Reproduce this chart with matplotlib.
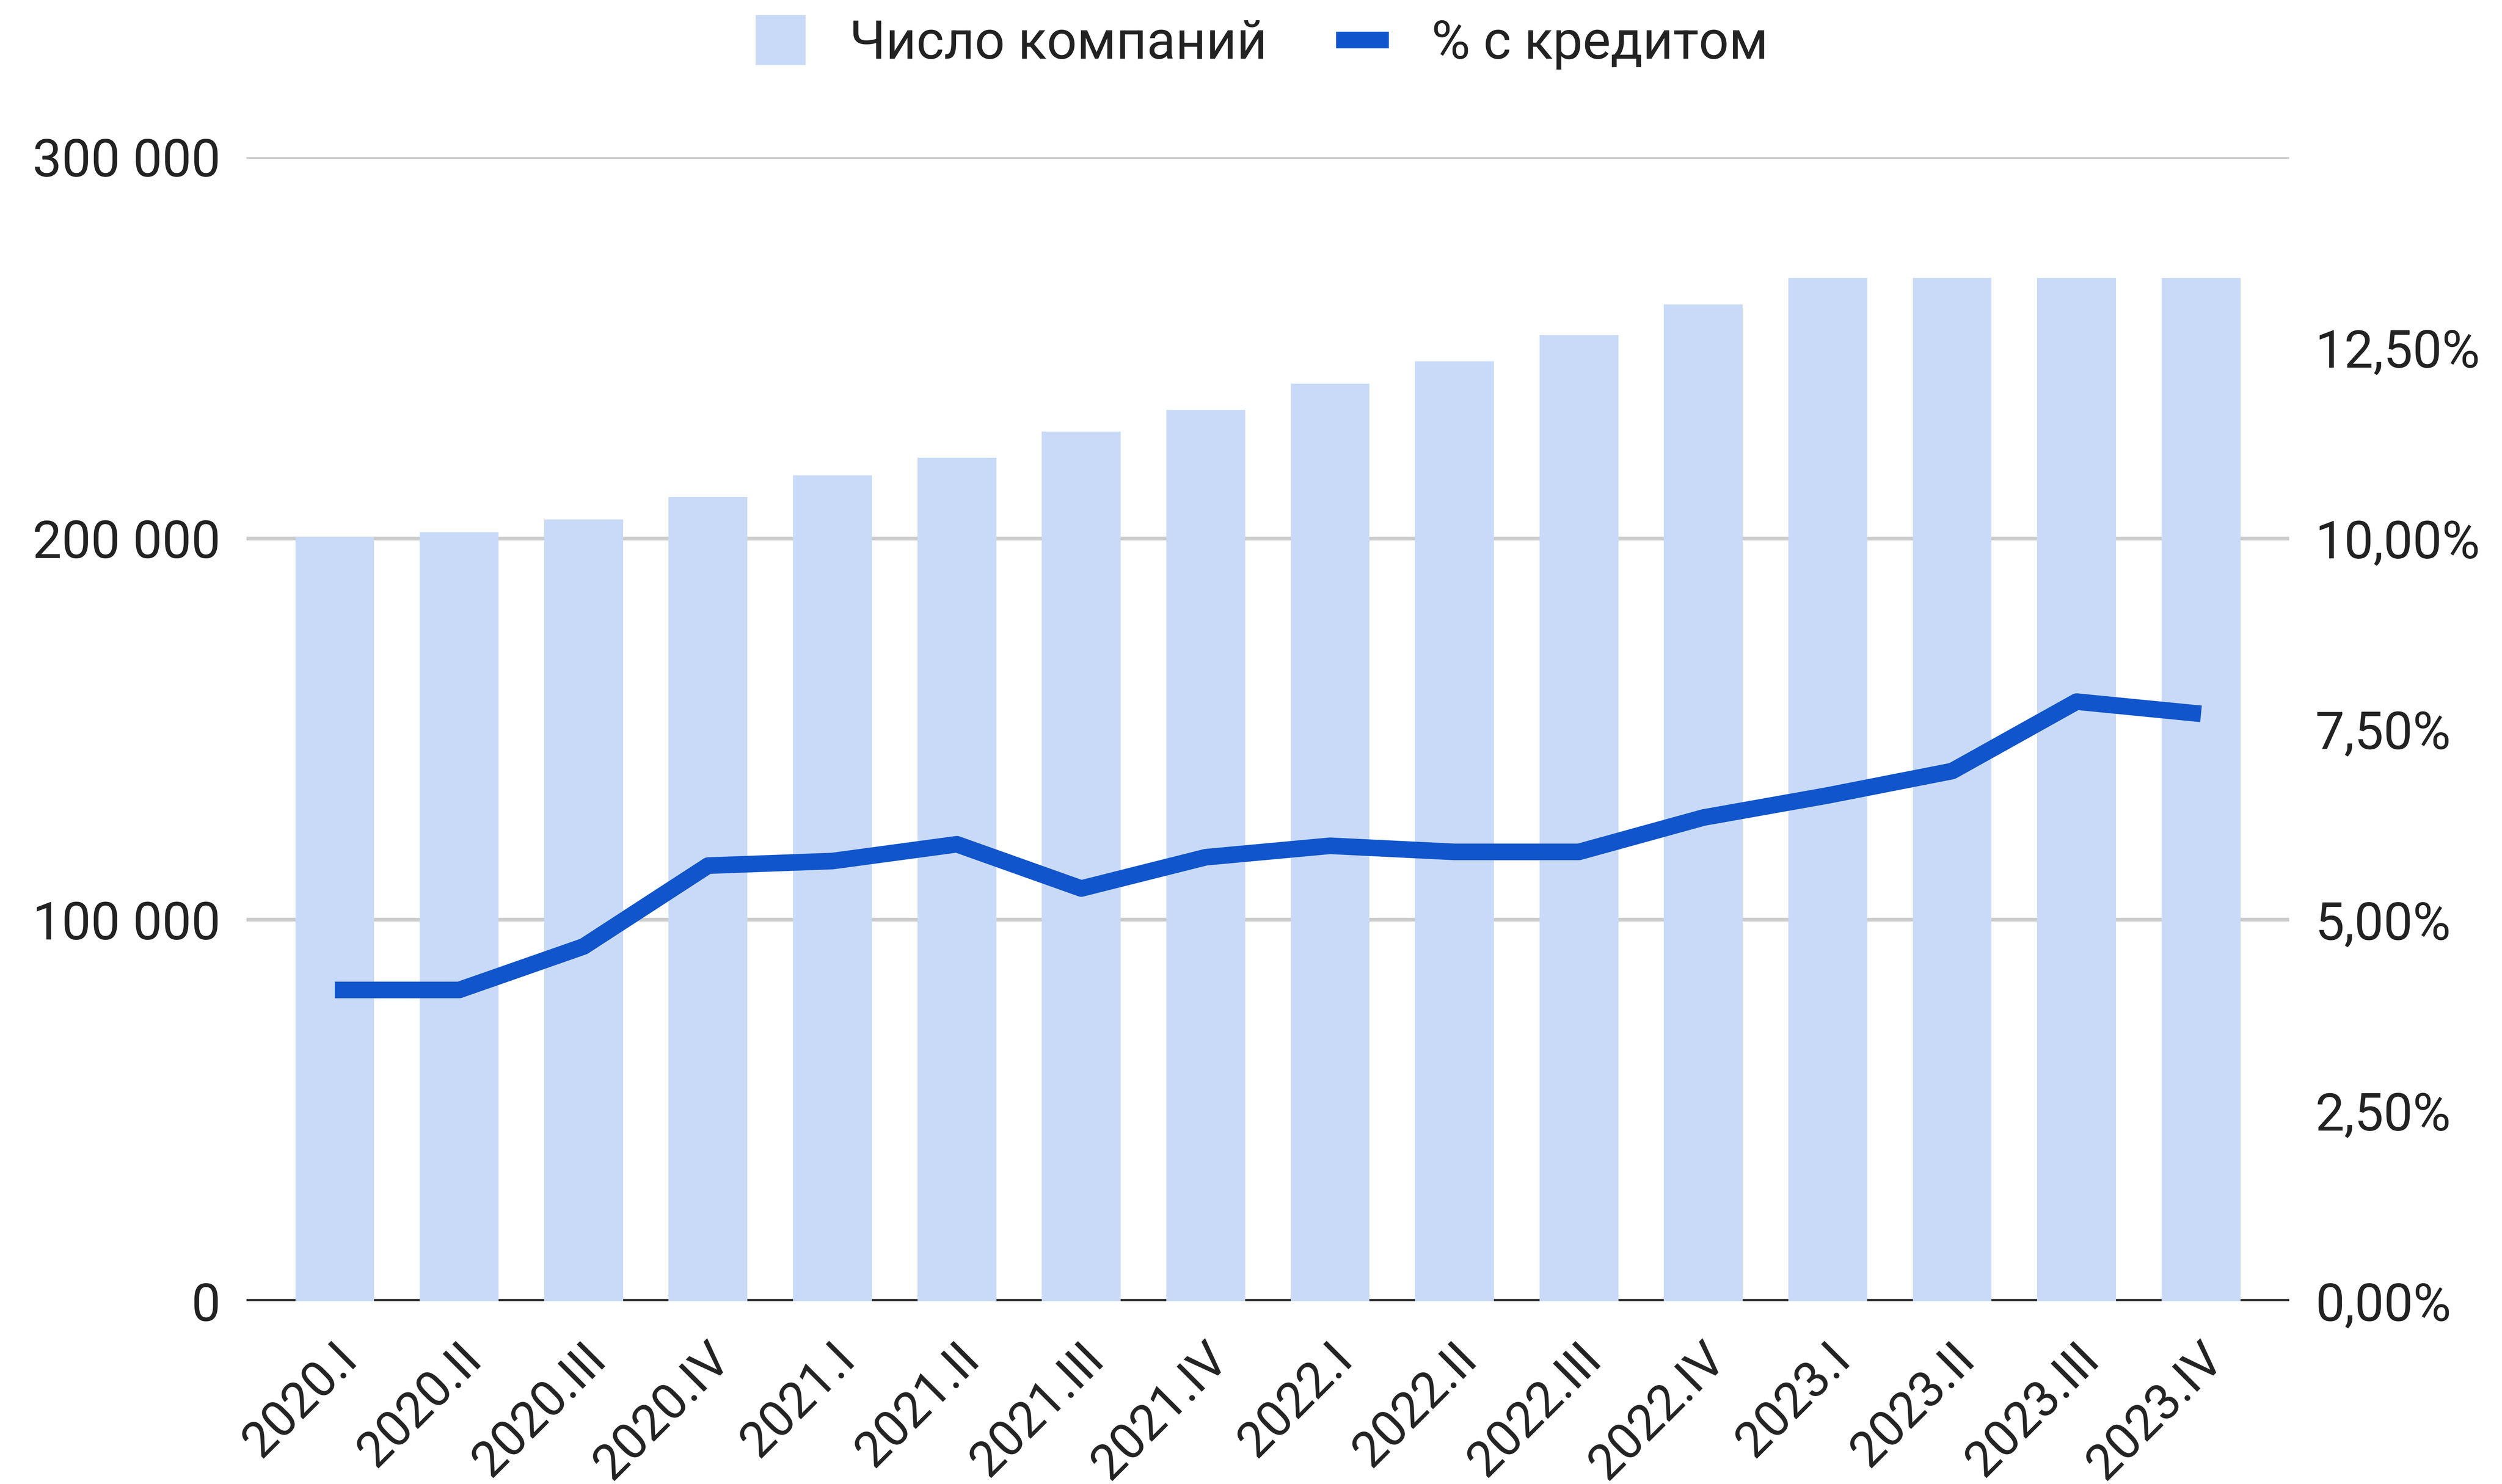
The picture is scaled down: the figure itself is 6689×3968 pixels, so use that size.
import matplotlib
matplotlib.use("Agg")
import matplotlib.pyplot as plt
import matplotlib.transforms as mtransforms
from matplotlib.lines import Line2D

plt.rcParams['font.family'] = ['Roboto', 'DejaVu Sans']

quarters = ["2020.I", "2020.II", "2020.III", "2020.IV",
            "2021.I", "2021.II", "2021.III", "2021.IV",
            "2022.I", "2022.II", "2022.III", "2022.IV",
            "2023.I", "2023.II", "2023.III", "2023.IV"]
companies = [200400, 201600, 205000, 210800, 216500, 221100, 228000, 233700,
             240600, 246400, 253300, 261300, 268300, 268300, 268300, 268300]
credit_share = [4.08, 4.08, 4.65, 5.71, 5.77, 5.99, 5.41, 5.82,
                5.97, 5.89, 5.89, 6.34, 6.63, 6.95, 7.86, 7.70]  # %

left_ticks = [0, 100000, 200000, 300000]
left_labels = ["0", "100 000", "200 000", "300 000"]
right_ticks = [0, 2.5, 5.0, 7.5, 10.0, 12.5]
right_labels = ["0,00%", "2,50%", "5,00%", "7,50%", "10,00%", "12,50%"]

bar_color = "#C9DAF8"
line_color = "#1155CC"
text_color = "#222222"
fs = 25

fig = plt.figure(figsize=(6689 / 400, 3968 / 400), dpi=400)
ax = fig.add_axes([0.0985, 0.1232, 0.915 - 0.0985, 0.8942 - 0.1232])
ax2 = ax.twinx()

x = list(range(len(quarters)))
ax.bar(x, companies, width=0.634, color=bar_color, zorder=3)
ax.axhline(0, color="#333333", lw=2.1, zorder=2)
ax.set_ylim(0, 300000)
ax.set_xlim(-0.71, 15.71)
ax.set_yticks(left_ticks)
ax.set_yticklabels(left_labels)
ax.yaxis.grid(True, color="#CCCCCC", lw=1.8, zorder=0)
ax.set_axisbelow(True)

ax2.plot(x, credit_share, color=line_color, lw=8, solid_capstyle="butt",
         solid_joinstyle="round", zorder=4)
ax2.set_ylim(0, 15)
ax2.set_yticks(right_ticks)
ax2.set_yticklabels(right_labels)

for a in (ax, ax2):
    for s in a.spines.values():
        s.set_visible(False)
    a.tick_params(axis="both", length=0, labelsize=fs, labelcolor=text_color, pad=12.5)

ax.set_xticks(x)
ax.set_xticklabels(quarters, rotation=45, ha="right", va="baseline",
                   rotation_mode="anchor", fontsize=24)
ax.tick_params(axis="x", pad=0)
offset = mtransforms.ScaledTranslation(66 / 400, -160 / 400, fig.dpi_scale_trans)
for lbl in ax.get_xticklabels():
    lbl.set_transform(lbl.get_transform() + offset)

handles = [
    Line2D([], [], marker="s", markersize=23, color=bar_color, linestyle="none"),
    Line2D([], [], color=line_color, lw=8, solid_capstyle="butt"),
]
fig.legend(handles, ["Число компаний", "% с кредитом"], loc="center",
           bbox_to_anchor=(0.504, 1 - 118 / 3968), ncol=2, frameon=False,
           fontsize=25.5, handlelength=1.0, handletextpad=0.8,
           columnspacing=1.3, borderpad=0, labelcolor=text_color)

fig.savefig("out.png", dpi=400, facecolor="white")
